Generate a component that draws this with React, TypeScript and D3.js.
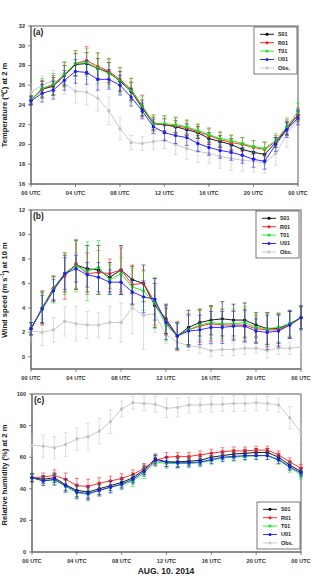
import * as d3 from 'd3'

// hourly steps, 00 UTC on Aug 10 to 00 UTC on Aug 11
const hours = [0, 1, 2, 3, 4, 5, 6, 7, 8, 9, 10, 11, 12, 13, 14, 15, 16, 17, 18, 19, 20, 21, 22, 23, 24]
const hourTicks = [0, 4, 8, 12, 16, 20, 24]
const hourLabels = ['00 UTC', '04 UTC', '08 UTC', '12 UTC', '16 UTC', '20 UTC', '00 UTC']

// (a) 2 m temperature
const tempS01 = [24.5, 25.6, 25.9, 27.0, 28.1, 28.2, 27.7, 27.3, 26.4, 25.4, 23.7, 22.1, 22.0, 21.8, 21.5, 21.2, 20.6, 20.3, 20.0, 19.5, 19.2, 19.0, 20.2, 21.6, 23.0]
const tempR01 = [24.5, 25.6, 26.0, 27.1, 28.2, 28.5, 27.9, 27.4, 26.6, 25.6, 23.9, 22.2, 22.0, 21.9, 21.7, 21.3, 20.9, 20.5, 20.2, 20.0, 19.7, 19.5, 20.3, 21.7, 23.0]
const tempT01 = [24.5, 25.7, 26.1, 27.1, 28.2, 28.3, 27.7, 27.2, 26.5, 25.5, 23.9, 22.1, 22.1, 22.0, 21.8, 21.4, 21.0, 20.6, 20.4, 20.1, 19.8, 19.6, 20.4, 21.8, 23.3]
const tempU01 = [24.4, 25.2, 25.5, 26.5, 27.4, 27.3, 26.6, 26.6, 26.0, 24.8, 23.4, 21.8, 21.2, 20.9, 20.7, 20.1, 19.7, 19.4, 19.2, 18.9, 18.5, 18.3, 20.0, 21.5, 22.7]
const tempObs = [25.3, 26.0, 26.5, 26.2, 25.4, 25.3, 24.7, 23.4, 21.6, 20.2, 20.1, 20.3, 20.4, 20.0, 19.6, 19.3, 19.1, 18.8, 18.6, 18.4, 18.3, 18.1, 19.1, 21.0, 22.6]
const tempS01Sd = [0.4, 0.8, 0.9, 1.0, 1.1, 1.1, 1.0, 1.0, 1.0, 0.9, 0.8, 0.6, 0.6, 0.6, 0.6, 0.6, 0.6, 0.6, 0.6, 0.6, 0.6, 0.6, 0.5, 0.6, 0.5]
const tempR01Sd = [0.4, 0.9, 1.0, 1.2, 1.3, 1.4, 1.4, 1.3, 1.2, 1.1, 1.1, 0.8, 0.9, 0.8, 0.7, 0.7, 0.7, 0.7, 0.7, 0.7, 0.7, 0.7, 0.6, 0.8, 0.7]
const tempT01Sd = [0.4, 1.0, 1.1, 1.3, 1.3, 1.4, 1.5, 1.4, 1.3, 1.2, 1.0, 0.8, 0.8, 0.8, 0.7, 0.7, 0.7, 0.7, 0.6, 0.6, 0.6, 0.7, 0.7, 0.9, 0.9]
const tempU01Sd = [0.4, 0.9, 0.9, 1.0, 1.2, 1.2, 1.1, 1.0, 1.0, 0.9, 0.8, 0.7, 0.8, 0.8, 0.8, 0.8, 0.8, 0.8, 0.8, 0.8, 0.8, 0.8, 0.7, 0.8, 0.7]
const tempObsSd = [0.8, 1.0, 1.0, 1.1, 1.2, 1.3, 1.3, 1.4, 1.1, 0.7, 0.7, 0.8, 0.8, 1.0, 1.1, 1.1, 1.0, 1.2, 1.2, 1.1, 1.1, 1.0, 1.2, 1.3, 0.7]

// (b) 10 m wind speed
const windS01 = [2.3, 4.0, 5.6, 6.8, 7.5, 7.2, 7.1, 6.5, 7.1, 6.3, 6.0, 4.2, 3.1, 1.7, 2.4, 2.8, 3.0, 3.1, 3.0, 3.0, 2.6, 2.3, 2.3, 2.7, 3.2]
const windR01 = [2.3, 4.0, 5.6, 6.6, 7.6, 6.8, 6.9, 6.8, 7.1, 5.9, 6.0, 4.5, 2.9, 1.7, 2.2, 2.5, 2.7, 2.6, 2.6, 2.6, 2.3, 2.2, 2.2, 2.6, 3.2]
const windT01 = [2.3, 4.0, 5.5, 6.8, 7.4, 7.0, 7.3, 6.3, 6.8, 5.7, 5.4, 4.4, 2.6, 1.7, 2.2, 2.6, 2.8, 2.7, 2.7, 2.8, 2.4, 2.3, 2.4, 2.7, 3.2]
const windU01 = [2.3, 3.9, 5.4, 6.8, 7.2, 6.7, 6.5, 6.1, 6.1, 5.3, 4.9, 4.7, 2.8, 1.7, 2.1, 2.2, 2.4, 2.4, 2.5, 2.5, 2.1, 2.0, 2.1, 2.6, 3.2]
const windObs = [2.1, 2.0, 2.2, 2.9, 2.7, 2.6, 2.6, 2.8, 2.8, 4.0, 3.4, 3.5, 1.8, 1.2, 0.9, 0.8, 0.5, 0.6, 0.6, 0.7, 0.7, 0.5, 0.7, 0.7, 0.8]
const windS01Sd = [0.5, 1.3, 1.0, 1.5, 2.0, 1.9, 2.0, 1.2, 2.0, 1.1, 1.5, 1.8, 1.2, 1.1, 1.4, 1.1, 1.2, 1.4, 1.3, 1.4, 1.0, 1.3, 1.2, 1.1, 0.9]
const windR01Sd = [0.5, 1.4, 0.9, 1.9, 2.0, 1.7, 1.8, 1.2, 1.8, 1.6, 1.1, 1.9, 1.1, 1.2, 1.3, 1.3, 1.4, 1.3, 1.2, 1.3, 1.1, 1.4, 1.3, 1.1, 0.9]
const windT01Sd = [0.5, 1.2, 1.1, 1.7, 2.1, 2.4, 2.2, 1.2, 1.3, 1.5, 1.6, 2.1, 1.3, 1.1, 1.3, 1.2, 1.3, 1.2, 1.2, 1.3, 1.2, 1.3, 1.2, 1.0, 0.9]
const windU01Sd = [0.5, 1.1, 0.9, 1.3, 1.1, 1.0, 1.2, 1.0, 1.0, 1.0, 1.3, 1.7, 1.4, 1.0, 1.3, 1.2, 1.3, 1.3, 1.2, 1.3, 1.0, 1.4, 1.3, 1.1, 1.0]
const windObsSd = [0.9, 1.1, 1.0, 1.2, 1.4, 1.1, 1.0, 1.3, 1.6, 2.1, 2.8, 1.5, 0.7, 0.5, 0.4, 0.5, 0.5, 0.5, 0.5, 0.5, 0.4, 0.6, 0.5, 0.5, 0.6]

// (c) 2 m relative humidity
const rhS01 = [47, 46, 47, 42.5, 39, 38, 40, 42, 44, 47, 52, 59, 57, 57, 57.5, 58, 60, 61, 62, 62.5, 63, 63, 60, 55, 51]
const rhR01 = [47, 47.5, 48.5, 46, 42, 41.5, 43.5, 45, 46.5, 49, 53, 58, 60, 60.5, 60.5, 61.5, 62.5, 63.5, 64, 64, 64.5, 64.5, 61.5, 57, 53]
const rhT01 = [47, 45, 45.5, 41.5, 37.5, 36.5, 39, 41, 42.5, 45, 50, 57, 56, 56, 56, 56.5, 58, 59.5, 60, 60.5, 61, 61, 58, 53.5, 49]
const rhU01 = [47, 45, 46, 42, 38, 37, 39, 41, 43, 46, 51, 58, 57, 56.5, 56.5, 57, 58.5, 60, 60.5, 61, 61, 61, 58.5, 54, 50]
const rhObs = [67.5, 67, 66, 68, 71.5, 73, 76.5, 82.5, 90.5, 94.5, 94, 93.5, 91, 91.5, 93, 93, 93.5, 93.5, 94, 94, 94.5, 94, 93, 85, 75.5]
const rhS01Sd = [2.5, 2.5, 3, 3.5, 4, 4, 3.5, 3, 3, 3, 3, 3, 3, 3, 2.5, 2.5, 2.5, 2.5, 2.5, 2.5, 2.5, 2.5, 2.5, 2.5, 2.5]
const rhR01Sd = [2.5, 2.5, 3.5, 4, 4.5, 4.5, 3.5, 3, 3, 3, 3, 3, 3, 2.5, 2.5, 2.5, 2.5, 2.5, 2.5, 2.5, 2.5, 2.5, 2.5, 2.5, 2.5]
const rhT01Sd = [2.5, 3, 3.5, 4, 4, 4, 3.5, 3.5, 3, 3.5, 3.5, 3, 3, 3, 2.5, 2.5, 2.5, 2.5, 2.5, 2.5, 2.5, 2.5, 2.5, 3, 3]
const rhU01Sd = [2.5, 3, 3.5, 4, 4, 4, 3.5, 3.5, 3, 3, 3, 3, 3, 3, 2.5, 2.5, 2.5, 2.5, 2.5, 2.5, 2.5, 2.5, 2.5, 2.5, 2.5]
const rhObsSd = [7, 7, 7, 7.5, 7, 8.5, 8, 7.5, 5, 4, 4.5, 5, 6, 6, 5, 4.5, 5, 4.5, 5, 5, 5, 4.5, 4.5, 7, 7]

const seriesNames = ['S01', 'R01', 'T01', 'U01', 'Obs.']
const seriesColors = ['#000000', '#ff1a1a', '#19e619', '#1a1aff', '#c4c4c4']
// drawing order: observations at the back, then S01, R01, T01, U01
const drawOrder = [4, 0, 1, 2, 3]

type Series = { mean: number[]; sd: number[] }

interface PanelProps {
  tag: string
  top: number
  bottom: number
  left: number
  right: number
  domain: [number, number]
  ticks: number[]
  title: React.ReactNode
  titleY: number
  series: Series[]
  legendX: number
  legendY: number
  xLabelY: number
}

function Panel(p: PanelProps) {
  const x = d3.scaleLinear().domain([0, 24]).range([p.left, p.right])
  const y = d3.scaleLinear().domain(p.domain).range([p.bottom, p.top])
  const line = d3
    .line<number>()
    .x((_, i) => x(hours[i]))
    .y((d) => y(d))
  const font = 'Arial, "Liberation Sans", sans-serif'

  return (
    <g>
      {/* frame */}
      <rect x={p.left} y={p.top} width={p.right - p.left} height={p.bottom - p.top} fill="white" stroke="#9a9a9a" strokeWidth={1.6} />
      <line x1={p.left} x2={p.left} y1={p.top} y2={p.bottom} stroke="#555" strokeWidth={0.8} />
      <line x1={p.left} x2={p.right} y1={p.bottom} y2={p.bottom} stroke="#555" strokeWidth={0.8} />

      {/* y axis */}
      {p.ticks.map((t) => (
        <g key={t}>
          <line x1={p.left - 3} x2={p.left} y1={y(t)} y2={y(t)} stroke="#555" strokeWidth={0.7} />
          <text x={p.left - 6} y={y(t)} dy="0.35em" textAnchor="end" fontSize={5.6} fontWeight="bold" fontFamily={font} fill="#333">
            {t}
          </text>
        </g>
      ))}
      <text
        transform={`translate(7,${p.titleY}) rotate(-90)`}
        textAnchor="middle"
        fontSize={7.6}
        fontWeight="bold"
        fontFamily={font}
        fill="#222"
      >
        {p.title}
      </text>

      {/* x axis */}
      {hourTicks.map((t, i) => (
        <g key={t}>
          <line x1={x(t)} x2={x(t)} y1={p.bottom} y2={p.bottom + 3} stroke="#555" strokeWidth={0.7} />
          <text x={x(t)} y={p.xLabelY} dy="0.35em" textAnchor="middle" fontSize={5.6} fontWeight="bold" fontFamily={font} fill="#333">
            {hourLabels[i]}
          </text>
        </g>
      ))}

      {/* series: error bars, line, markers */}
      {drawOrder.map((k) => {
        const s = p.series[k]
        const c = seriesColors[k]
        return (
          <g key={k}>
            {s.mean.map((m, i) => {
              const cx = x(hours[i])
              const y0 = y(m - s.sd[i])
              const y1 = y(m + s.sd[i])
              return (
                <g key={i} stroke={c} strokeWidth={0.7} opacity={0.8}>
                  <line x1={cx} x2={cx} y1={y0} y2={y1} />
                  <line x1={cx - 2} x2={cx + 2} y1={y0} y2={y0} />
                  <line x1={cx - 2} x2={cx + 2} y1={y1} y2={y1} />
                </g>
              )
            })}
            <path d={line(s.mean) ?? ''} fill="none" stroke={c} strokeWidth={0.9} />
            {s.mean.map((m, i) => (
              <circle key={i} cx={x(hours[i])} cy={y(m)} r={1.7} fill={c} />
            ))}
          </g>
        )
      })}

      <text x={p.left + 2} y={p.top + 8.5} fontSize={8.5} fontWeight="bold" fontFamily={font} fill="#222">
        {p.tag}
      </text>

      {/* legend */}
      <g transform={`translate(${p.legendX},${p.legendY})`}>
        <rect x={0} y={0} width={43} height={47} fill="white" stroke="#555" strokeWidth={0.8} />
        {seriesNames.map((n, i) => (
          <g key={n} transform={`translate(0,${7.3 + i * 8.4})`}>
            <line x1={6} x2={20} y1={0} y2={0} stroke={seriesColors[i]} strokeWidth={0.9} />
            <circle cx={13} cy={0} r={1.5} fill={seriesColors[i]} />
            <text x={24} y={0} dy="0.35em" fontSize={5.4} fontWeight="bold" fontFamily={font} fill="#222">
              {n}
            </text>
          </g>
        ))}
      </g>
    </g>
  )
}

export default function App() {
  const temp: Series[] = [
    { mean: tempS01, sd: tempS01Sd },
    { mean: tempR01, sd: tempR01Sd },
    { mean: tempT01, sd: tempT01Sd },
    { mean: tempU01, sd: tempU01Sd },
    { mean: tempObs, sd: tempObsSd },
  ]
  const wind: Series[] = [
    { mean: windS01, sd: windS01Sd },
    { mean: windR01, sd: windR01Sd },
    { mean: windT01, sd: windT01Sd },
    { mean: windU01, sd: windU01Sd },
    { mean: windObs, sd: windObsSd },
  ]
  const rh: Series[] = [
    { mean: rhS01, sd: rhS01Sd },
    { mean: rhR01, sd: rhR01Sd },
    { mean: rhT01, sd: rhT01Sd },
    { mean: rhU01, sd: rhU01Sd },
    { mean: rhObs, sd: rhObsSd },
  ]

  return (
    <svg width={314} height={578} style={{ position: 'absolute', left: 0, top: 0, background: 'white' }}>
      <Panel
        tag="(a)"
        top={26}
        bottom={184}
        left={31}
        right={298}
        domain={[16, 32]}
        ticks={[16, 18, 20, 22, 24, 26, 28, 30, 32]}
        title="Temperature (℃) at 2 m"
        titleY={105}
        series={temp}
        legendX={254}
        legendY={27}
        xLabelY={193}
      />
      <Panel
        tag="(b)"
        top={210}
        bottom={369}
        left={31}
        right={301}
        domain={[-1, 12]}
        ticks={[0, 2, 4, 6, 8, 10, 12]}
        title={
          <>
            Wind speed (m s
            <tspan fontSize={5} dy={-3}>-1</tspan>
            <tspan dy={3}>) at 10 m</tspan>
          </>
        }
        titleY={290}
        series={wind}
        legendX={256}
        legendY={211}
        xLabelY={378}
      />
      <Panel
        tag="(c)"
        top={394}
        bottom={552}
        left={32}
        right={301}
        domain={[0, 100]}
        ticks={[0, 20, 40, 60, 80, 100]}
        title="Relative humidity (%) at 2 m"
        titleY={475}
        series={rh}
        legendX={257}
        legendY={502}
        xLabelY={561}
      />
      <text x={166} y={574} textAnchor="middle" fontSize={8.5} fontWeight="bold" fontFamily='Arial, "Liberation Sans", sans-serif' fill="#222">
        AUG. 10. 2014
      </text>
    </svg>
  )
}
